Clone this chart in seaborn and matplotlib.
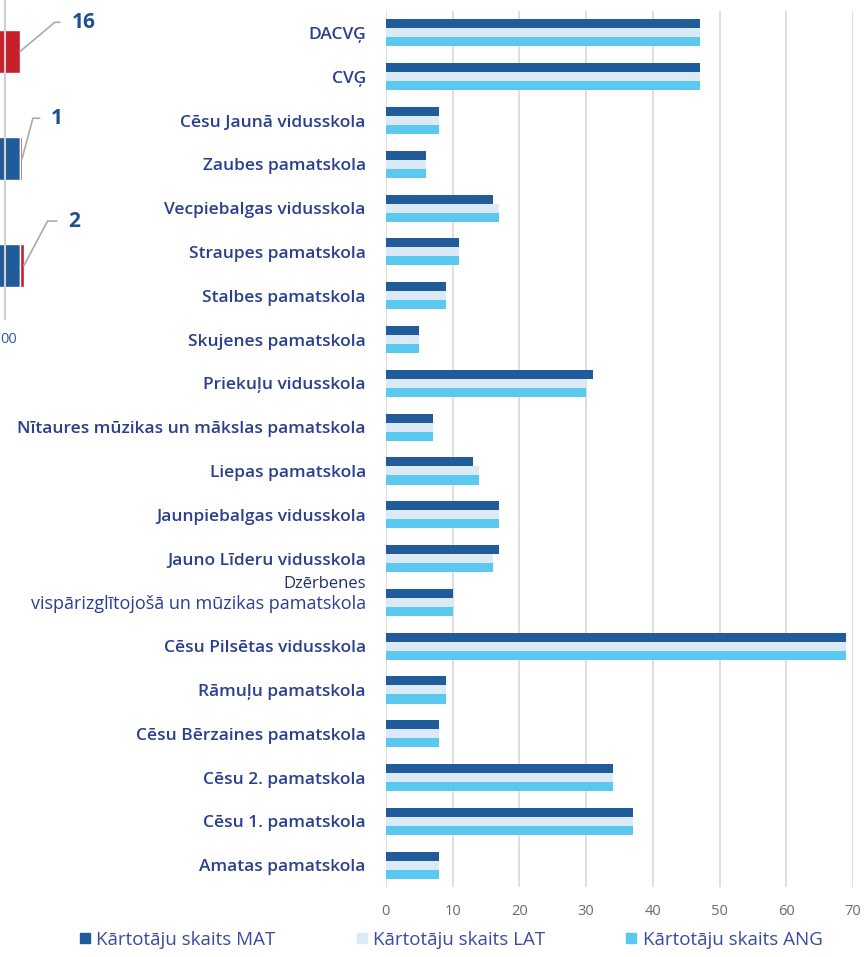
import numpy as np
import pandas as pd
import matplotlib
matplotlib.use("Agg")
import matplotlib.pyplot as plt
import seaborn as sns

schools = [
    "DACVĢ",
    "CVĢ",
    "Cēsu Jaunā vidusskola",
    "Zaubes pamatskola",
    "Vecpiebalgas vidusskola",
    "Straupes pamatskola",
    "Stalbes pamatskola",
    "Skujenes pamatskola",
    "Priekuļu vidusskola",
    "Nītaures mūzikas un mākslas pamatskola",
    "Liepas pamatskola",
    "Jaunpiebalgas vidusskola",
    "Jauno Līderu vidusskola",
    "Dzērbenes\nvispārizglītojošā un mūzikas pamatskola",
    "Cēsu Pilsētas vidusskola",
    "Rāmuļu pamatskola",
    "Cēsu Bērzaines pamatskola",
    "Cēsu 2. pamatskola",
    "Cēsu 1. pamatskola",
    "Amatas pamatskola",
]
mat = [47, 47, 8, 6, 16, 11, 9, 5, 31, 7, 13, 17, 17, 10, 69, 9, 8, 34, 37, 8]
lat = [47, 47, 8, 6, 17, 11, 9, 5, 30, 7, 14, 17, 16, 10, 69, 9, 8, 34, 37, 8]
ang = [47, 47, 8, 6, 17, 11, 9, 5, 30, 7, 14, 17, 16, 10, 69, 9, 8, 34, 37, 8]
series = ["Kārtotāju skaits MAT", "Kārtotāju skaits LAT", "Kārtotāju skaits ANG"]
colors = ["#1f5c99", "#dce9f6", "#5bc8f0"]
x_ticks = [0, 10, 20, 30, 40, 50, 60, 70]

# cropped piece of a neighbouring chart at the left edge
frag_labels = ["16", "1", "2"]
frag_blue = [0, 102.9, 102.9]
frag_red = [102.85, 0.35, 0.7]

df = pd.DataFrame({"school": schools, series[0]: mat, series[1]: lat, series[2]: ang})
long_df = df.melt(id_vars="school", var_name="series", value_name="count")

sns.set_style("white")
plt.rcParams["font.family"] = ["Open Sans", "DejaVu Sans"]

fig = plt.figure(figsize=(8.67, 9.57), dpi=100)
ax = fig.add_axes([0.445, 0.0731, 0.539, 0.9154])

sns.barplot(
    data=long_df, x="count", y="school", hue="series", orient="h",
    palette=colors, width=0.62, gap=0, ax=ax, legend=False, saturation=1,
    linewidth=0,
)

ax.set_xlim(0, 70)
ax.set_xticks(x_ticks)
ax.grid(axis="x", color="#d9d9d9", linewidth=1.2)
ax.set_axisbelow(True)
for s in ax.spines.values():
    s.set_visible(False)
ax.tick_params(axis="both", length=0)
ax.tick_params(axis="x", pad=12, labelsize=10.5, labelcolor="#6b6b6b")
ax.set_xlabel("")
ax.set_ylabel("")

# category labels
ticklabels = []
for i, name in enumerate(schools):
    parts = name.split("\n")
    ticklabels.append(parts[-1])
    if len(parts) > 1:
        ax.annotate(parts[0], xy=(0, i), xycoords=("axes fraction", "data"),
                    xytext=(-14.4, 13), textcoords="offset points",
                    ha="right", va="center", fontsize=12, color="#1f2f66")
ax.set_yticks(range(len(schools)))
ax.set_yticklabels(ticklabels, fontsize=12.5, color="#2b3f8f", fontweight="semibold")
ax.tick_params(axis="y", pad=14.4)
ax.get_yticklabels()[13].set_fontweight("normal")
ax.get_yticklabels()[13].set_fontsize(13)

# legend
handles = [plt.Line2D([], [], marker="s", linestyle="", markersize=7.5,
                      color=c) for c in colors]
fig.legend(handles, series, loc="center", bbox_to_anchor=(0.52, 0.018), ncol=3,
           frameon=False, fontsize=13.5, labelcolor="#3a4ba0", handlelength=0.6,
           handletextpad=0.3, columnspacing=4.3)

# left fragment
fax = fig.add_axes([0.0, 1 - 320 / 957, 0.03, 320 / 957])
fy = [0, 1, 2]
fax.barh(fy, frag_blue, color="#1f5c99", height=0.4)
fax.barh(fy, frag_red, left=frag_blue, color="#c8202a", height=0.4)
fax.set_xlim(99, 104)
fax.set_ylim(2.509, -0.481)
fax.axvline(100, color="#d0d0d0", linewidth=1.5)
fax.axis("off")
offsets = [(37, 21), (21, 29), (32, 32)]
angles = [40, 75, 62]
for i, lab in enumerate(frag_labels):
    end = frag_blue[i] + frag_red[i]
    fax.annotate(lab, xy=(end, i), xytext=offsets[i], textcoords="offset points",
                 fontsize=15, fontweight="bold", color="#1f4f93", va="center",
                 ha="left", annotation_clip=False,
                 arrowprops=dict(arrowstyle="-", color="#aaaaaa", lw=1.2,
                                 connectionstyle=f"angle,angleA=0,angleB={angles[i]},rad=0",
                                 shrinkA=6, shrinkB=0))
fig.text(0.0, 1 - 340 / 957, "00", fontsize=10.5, color="#2e5c9a", va="center")

fig.savefig("out.png", dpi=100)
